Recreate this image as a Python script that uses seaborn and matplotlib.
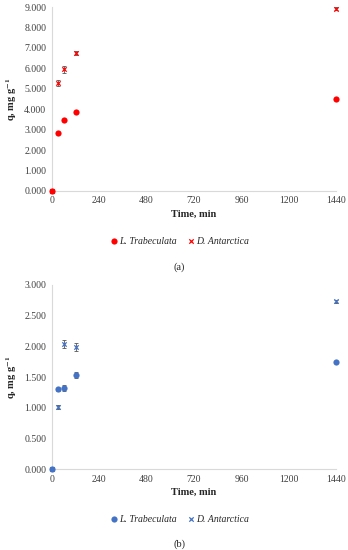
import seaborn as sns
import matplotlib.pyplot as plt
import pandas as pd

############################################################### Data

time_min = [0, 30, 60, 120, 1440]

# panel (a)
a_trab = [0.0, 2.82, 3.46, 3.85, 4.52]
a_trab_err = [0.0, 0.03, 0.03, 0.04, 0.03]
a_ant = [0.0, 5.28, 5.95, 6.76, 8.93]
a_ant_err = [0.0, 0.15, 0.17, 0.08, 0.06]

# panel (b)
b_trab = [0.0, 1.30, 1.32, 1.53, 1.74]
b_trab_err = [0.0, 0.02, 0.05, 0.05, 0.01]
b_ant = [0.0, 1.01, 2.04, 1.99, 2.73]
b_ant_err = [0.0, 0.03, 0.06, 0.06, 0.02]

x_ticks = [0, 240, 480, 720, 960, 1200, 1440]

############################################################### Plot

sns.set_style("white")
plt.rcParams['font.family'] = ['Liberation Serif', 'DejaVu Serif']
plt.rcParams['mathtext.fontset'] = 'stix'

fig = plt.figure(figsize=(3.48, 5.5), dpi=100)

panels = [
    dict(rect=[0.149, 0.653, 0.817, 0.334], trab=a_trab, terr=a_trab_err, ant=a_ant, aerr=a_ant_err,
         color='#ff0000', ymax=9, ystep=1, leg_y=1 - 241 / 550, lab_y=1 - 267 / 550, tag='(a)'),
    dict(rect=[0.149, 0.147, 0.817, 0.335], trab=b_trab, terr=b_trab_err, ant=b_ant, aerr=b_ant_err,
         color='#4472c4', ymax=3, ystep=0.5, leg_y=1 - 519 / 550, lab_y=1 - 544 / 550, tag='(b)'),
]

for p in panels:
    ax = fig.add_axes(p['rect'])
    df = pd.DataFrame({'t': time_min, 'trab': p['trab'], 'ant': p['ant']})
    ax.errorbar(df['t'], df['ant'], yerr=p['aerr'], fmt='none', ecolor='#555555',
                elinewidth=0.6, capsize=1.5, capthick=0.6, clip_on=False, zorder=2)
    ax.errorbar(df['t'], df['trab'], yerr=p['terr'], fmt='none', ecolor='#555555',
                elinewidth=0.6, capsize=1.5, capthick=0.6, clip_on=False, zorder=2)
    sns.scatterplot(data=df, x='t', y='ant', ax=ax, marker='x', color=p['color'], s=10,
                    linewidth=0.9, clip_on=False, zorder=3, label='D. Antarctica', legend=False)
    sns.scatterplot(data=df, x='t', y='trab', ax=ax, marker='o', color=p['color'], s=20,
                    linewidth=0, clip_on=False, zorder=4, label='L. Trabeculata', legend=False)

    ax.set_xlim(0, 1440)
    ax.set_ylim(0, p['ymax'])
    ax.set_xticks(x_ticks)
    yt = [i * p['ystep'] for i in range(int(round(p['ymax'] / p['ystep'])) + 1)]
    ax.set_yticks(yt)
    ax.set_yticklabels([f"{v:.3f}" for v in yt])
    for s in ['top', 'right']:
        ax.spines[s].set_visible(False)
    for s in ['left', 'bottom']:
        ax.spines[s].set_color('#d9d9d9')
        ax.spines[s].set_linewidth(0.8)
    ax.tick_params(axis='both', labelsize=7, colors='#d9d9d9', labelcolor='#404040',
                   length=2, width=0.6, pad=2)
    ax.set_xlabel('Time, min', fontsize=7.5, fontweight='bold', labelpad=3)
    ax.set_ylabel('q, mg g$^{\\mathbf{-1}}$', fontsize=7.5, fontweight='bold', labelpad=4)

    h, l = ax.get_legend_handles_labels()
    order = [l.index('L. Trabeculata'), l.index('D. Antarctica')]
    fig.legend([h[i] for i in order], [l[i] for i in order], loc='center',
               bbox_to_anchor=(0.515, p['leg_y']), ncol=2, frameon=False,
               prop={'size': 7, 'style': 'italic'}, handletextpad=0.0,
               columnspacing=1.0, handlelength=1.0)
    fig.text(0.515, p['lab_y'], p['tag'], ha='center', va='center', fontsize=7.5)

plt.savefig('out.png', dpi=100)
